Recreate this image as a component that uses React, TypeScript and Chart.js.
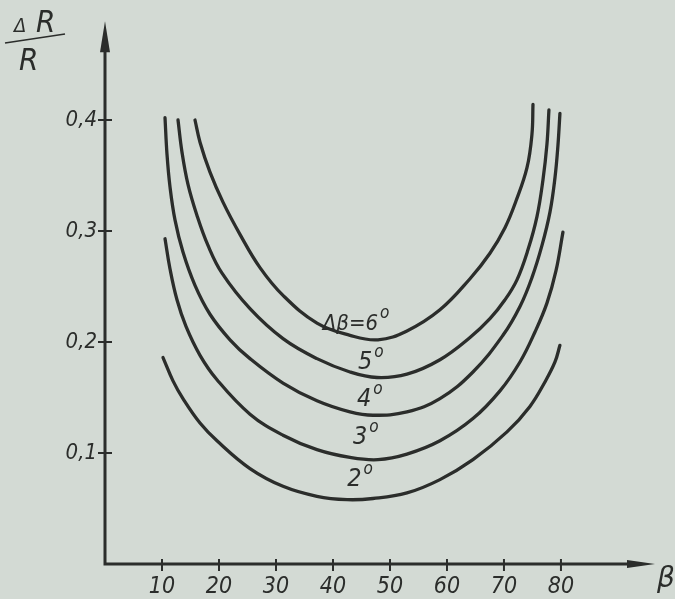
import React, { useEffect, useRef } from "react";
import { Chart, registerables } from "chart.js";

Chart.register(...registerables);

// ---- data (β in degrees, ΔR/R) ----
const betaTicks = [10, 20, 30, 40, 50, 60, 70, 80];
const ratioTicks = [0.1, 0.2, 0.3, 0.4];

const beta2 = [10.18, 11.93, 13.68, 16.67, 19.65, 25.44, 31.23, 37.19, 42.46, 47.02, 52.98, 58.77, 64.56, 70.53, 74.56, 77.19, 78.95, 79.82];
const ratio2 = [0.186, 0.165, 0.149, 0.127, 0.111, 0.086, 0.07, 0.061, 0.058, 0.059, 0.064, 0.076, 0.094, 0.119, 0.142, 0.164, 0.182, 0.197];

const beta3 = [10.53, 11.4, 12.63, 14.21, 16.67, 19.65, 25.44, 31.23, 37.19, 42.98, 47.89, 52.98, 58.77, 64.56, 69.3, 72.81, 75.44, 77.54, 79.12, 80.35];
const ratio3 = [0.293, 0.266, 0.238, 0.214, 0.188, 0.166, 0.135, 0.116, 0.103, 0.096, 0.094, 0.099, 0.111, 0.131, 0.156, 0.182, 0.209, 0.235, 0.264, 0.299];

const beta4 = [10.53, 10.88, 11.4, 12.28, 13.68, 15.79, 18.42, 21.93, 25.44, 31.23, 37.19, 42.98, 47.02, 52.98, 58.77, 64.56, 69.82, 72.81, 74.91, 76.67, 78.07, 78.95, 79.47, 79.82];
const ratio4 = [0.402, 0.369, 0.34, 0.31, 0.281, 0.251, 0.225, 0.202, 0.185, 0.163, 0.147, 0.137, 0.134, 0.137, 0.149, 0.173, 0.206, 0.232, 0.258, 0.287, 0.317, 0.348, 0.377, 0.406];

const beta5 = [12.81, 13.51, 14.56, 16.14, 18.07, 20.53, 25.44, 31.23, 37.19, 42.98, 47.72, 52.98, 58.77, 64.04, 67.54, 70.18, 72.28, 74.21, 75.79, 76.84, 77.54, 77.89];
const ratio5 = [0.4, 0.371, 0.342, 0.314, 0.287, 0.262, 0.23, 0.203, 0.185, 0.173, 0.168, 0.171, 0.184, 0.204, 0.221, 0.238, 0.256, 0.283, 0.313, 0.346, 0.378, 0.409];

const beta6 = [15.79, 16.67, 18.42, 20.7, 23.68, 27.19, 31.23, 37.19, 42.98, 47.89, 52.98, 58.77, 64.04, 67.54, 70.18, 72.11, 74.04, 74.91, 75.09];
const ratio6 = [0.4, 0.38, 0.353, 0.326, 0.297, 0.267, 0.242, 0.217, 0.206, 0.202, 0.21, 0.229, 0.257, 0.28, 0.303, 0.327, 0.357, 0.387, 0.414];

// curve labels (text, anchor β, anchor ΔR/R)
const curveLabels = ["2", "3", "4", "5", "Δβ=6"];
const labelBeta = [42.5, 43.5, 44.2, 44.4, 38.2];
const labelRatio = [0.07, 0.108, 0.142, 0.176, 0.211];

const BG = "#d3dad4";
const INK = "#2b2d2b";
const FONT = "'Liberation Sans Narrow', 'DejaVu Sans Condensed', 'DejaVu Sans', sans-serif";

export default function App() {
  const ref = useRef<HTMLCanvasElement>(null);

  useEffect(() => {
    if (!ref.current) return;
    const series = [
      [beta2, ratio2],
      [beta3, ratio3],
      [beta4, ratio4],
      [beta5, ratio5],
      [beta6, ratio6],
    ];

    const decor = {
      id: "decor",
      afterDraw(chart: any) {
        const { ctx, chartArea: a, scales } = chart;
        const xs = scales.x;
        const ys = scales.y;
        ctx.save();
        ctx.strokeStyle = INK;
        ctx.fillStyle = INK;
        // axes
        ctx.lineWidth = 3;
        ctx.lineCap = "square";
        ctx.beginPath();
        ctx.moveTo(a.left, a.top + 22);
        ctx.lineTo(a.left, a.bottom);
        ctx.lineTo(a.right - 20, a.bottom);
        ctx.stroke();
        // arrowheads
        ctx.beginPath();
        ctx.moveTo(a.left, a.top);
        ctx.lineTo(a.left - 5, a.top + 31);
        ctx.lineTo(a.left + 5, a.top + 31);
        ctx.closePath();
        ctx.fill();
        ctx.beginPath();
        ctx.moveTo(a.right, a.bottom);
        ctx.lineTo(a.right - 28, a.bottom - 4);
        ctx.lineTo(a.right - 28, a.bottom + 4);
        ctx.closePath();
        ctx.fill();
        // tick marks
        ctx.lineWidth = 2;
        ctx.lineCap = "butt";
        betaTicks.forEach((v) => {
          const px = xs.getPixelForValue(v);
          ctx.beginPath();
          ctx.moveTo(px, a.bottom - 5);
          ctx.lineTo(px, a.bottom + 7);
          ctx.stroke();
        });
        ratioTicks.forEach((v) => {
          const py = ys.getPixelForValue(v);
          ctx.beginPath();
          ctx.moveTo(a.left - 7, py);
          ctx.lineTo(a.left + 7, py);
          ctx.stroke();
        });
        // curve labels with superscript degree
        ctx.textAlign = "left";
        ctx.textBaseline = "alphabetic";
        curveLabels.forEach((t, i) => {
          const px = xs.getPixelForValue(labelBeta[i]);
          const py = ys.getPixelForValue(labelRatio[i]);
          ctx.font = `italic ${i === 4 ? 22 : 25}px ${FONT}`;
          ctx.fillText(t, px, py);
          const w = ctx.measureText(t).width;
          ctx.font = `italic 17px ${FONT}`;
          ctx.fillText("o", px + w + 2, py - 12);
        });
        // axis titles
        ctx.font = `italic 20px ${FONT}`;
        ctx.fillText("Δ", 14, 32);
        ctx.font = `italic 31px ${FONT}`;
        ctx.fillText("R", 36, 32);
        ctx.lineWidth = 1.5;
        ctx.beginPath();
        ctx.moveTo(5, 43);
        ctx.lineTo(65, 34);
        ctx.stroke();
        ctx.font = `italic 31px ${FONT}`;
        ctx.fillText("R", 19, 70);
        ctx.font = `italic 28px 'DejaVu Sans', sans-serif`;
        ctx.fillText("β", a.right + 2, a.bottom + 23);
        ctx.restore();
      },
    };

    const chart = new Chart(ref.current, {
      type: "scatter",
      data: {
        datasets: series.map(([bx, ry], i) => ({
          label: curveLabels[i],
          data: bx.map((b, k) => ({ x: b, y: ry[k] })),
          showLine: true,
          tension: 0.4,
          borderColor: INK,
          borderWidth: 3.3,
          borderCapStyle: "round" as const,
          borderJoinStyle: "round" as const,
          pointRadius: 0,
          pointHoverRadius: 0,
          fill: false,
        })),
      },
      options: {
        animation: false,
        responsive: true,
        maintainAspectRatio: false,
        layout: { padding: { top: 15, right: 20, left: 0, bottom: 0 } },
        plugins: { legend: { display: false }, tooltip: { enabled: false } },
        scales: {
          x: {
            type: "linear",
            min: 0,
            max: 96.5,
            grid: { display: false, drawTicks: false },
            border: { display: false },
            afterBuildTicks: (axis: any) => {
              axis.ticks = betaTicks.map((value) => ({ value }));
            },
            afterFit: (axis: any) => {
              axis.height = 35;
            },
            ticks: {
              autoSkip: false,
              maxRotation: 0,
              padding: 9,
              color: INK,
              font: { family: FONT, size: 23, style: "italic" },
              callback: (v: any) => String(v),
            },
          },
          y: {
            type: "linear",
            min: 0,
            max: 0.489,
            grid: { display: false, drawTicks: false },
            border: { display: false },
            afterBuildTicks: (axis: any) => {
              axis.ticks = ratioTicks.map((value) => ({ value }));
            },
            afterFit: (axis: any) => {
              axis.width = 105;
            },
            ticks: {
              autoSkip: false,
              padding: 8,
              color: INK,
              font: { family: FONT, size: 22, style: "italic" },
              callback: (v: any) => Number(v).toFixed(1).replace(".", ","),
            },
          },
        },
      },
      plugins: [decor],
    });
    return () => chart.destroy();
  }, []);

  return (
    <div style={{ position: "absolute", left: 0, top: 0, width: 675, height: 599, background: BG }}>
      <canvas ref={ref} />
    </div>
  );
}
